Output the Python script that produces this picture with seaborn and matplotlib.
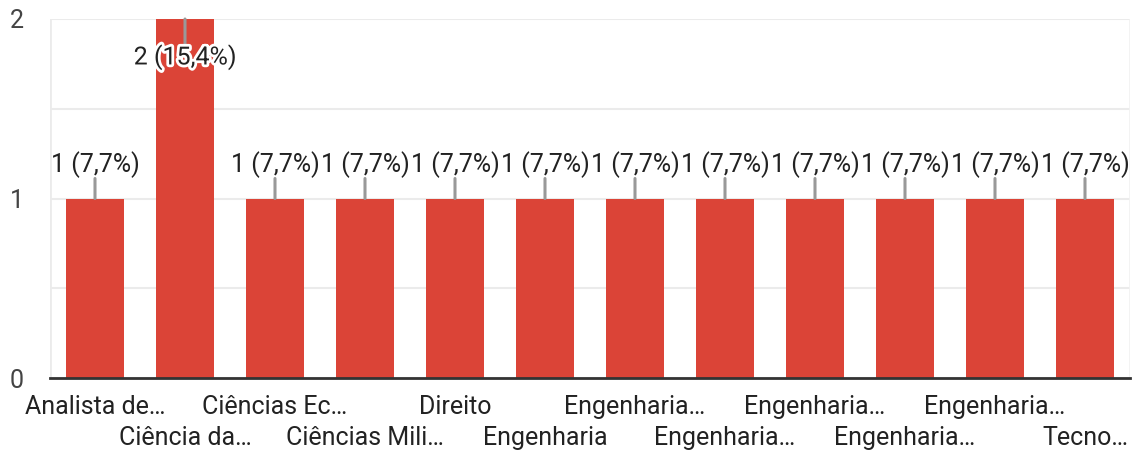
import matplotlib
matplotlib.use("Agg")
import matplotlib.pyplot as plt
import matplotlib.patheffects as pe
import seaborn as sns

# Values (Google Forms style bar chart)
categories = ["Analista de…", "Ciência da…", "Ciências Ec…", "Ciências Mili…",
              "Direito", "Engenharia", "Engenharia…", "Engenharia…",
              "Engenharia…", "Engenharia…", "Engenharia…", "Tecno…"]
counts = [1, 2, 1, 1, 1, 1, 1, 1, 1, 1, 1, 1]
percents = ["7,7%", "15,4%", "7,7%", "7,7%", "7,7%", "7,7%",
            "7,7%", "7,7%", "7,7%", "7,7%", "7,7%", "7,7%"]

sns.set_style("white")
plt.rcParams['font.family'] = ['Roboto', 'DejaVu Sans']
FS = 18

fig = plt.figure(figsize=(11.38, 4.5), dpi=100)
ax = fig.add_axes([50 / 1138, 1 - 378 / 450, 1080 / 1138, 359 / 450])

xs = list(range(len(categories)))
sns.barplot(x=xs, y=counts, color="#db4437", saturation=1, width=0.64, ax=ax,
            zorder=3, linewidth=0)

ax.set_xlim(-0.5, len(categories) - 0.5)
ax.set_ylim(0, 2)
ax.set_yticks([0, 1, 2])
ax.set_yticks([0.5, 1.5], minor=True)
ax.grid(axis="y", which="both", color="#ebebeb", lw=1.5, zorder=0)
ax.axvline(-0.5, color="#ebebeb", lw=2, zorder=1)
ax.axvline(len(categories) - 0.5, color="#f2f2f2", lw=2, zorder=1)
for s in ["left", "right", "top"]:
    ax.spines[s].set_visible(False)
ax.spines["bottom"].set_color("#333333")
ax.spines["bottom"].set_linewidth(2)
ax.spines["bottom"].set_zorder(5)

ax.set_xticks(xs)
ax.set_xticklabels(categories, fontsize=FS, color="#222222")
ax.tick_params(axis="x", length=0, pad=12)
ax.tick_params(axis="y", which="both", length=0, pad=19, labelsize=FS, labelcolor="#444444")
for i, t in enumerate(ax.xaxis.get_major_ticks()):
    if i % 2 == 1:
        t.set_pad(34.5)

top = max(counts)
for x, c, p in zip(xs, counts, percents):
    label = f"{c} ({p})"
    if c == top:
        ax.annotate("", xy=(x, c), xytext=(0, -26), textcoords="offset pixels",
                    arrowprops=dict(arrowstyle="-", color="#999999", lw=2.2,
                                    shrinkA=0, shrinkB=0), zorder=6)
        ax.annotate(label, xy=(x, c), xytext=(0, -38), textcoords="offset pixels",
                    ha="center", va="center", fontsize=FS, color="#222222", zorder=7,
                    path_effects=[pe.withStroke(linewidth=4, foreground="white")])
    else:
        ax.annotate("", xy=(x, c), xytext=(0, 20), textcoords="offset pixels",
                    arrowprops=dict(arrowstyle="-", color="#999999", lw=2.2,
                                    shrinkA=0, shrinkB=0), zorder=6)
        ax.annotate(label, xy=(x, c), xytext=(0, 34), textcoords="offset pixels",
                    ha="center", va="center", fontsize=FS, color="#222222", zorder=7)

fig.savefig("out.png", dpi=100)
